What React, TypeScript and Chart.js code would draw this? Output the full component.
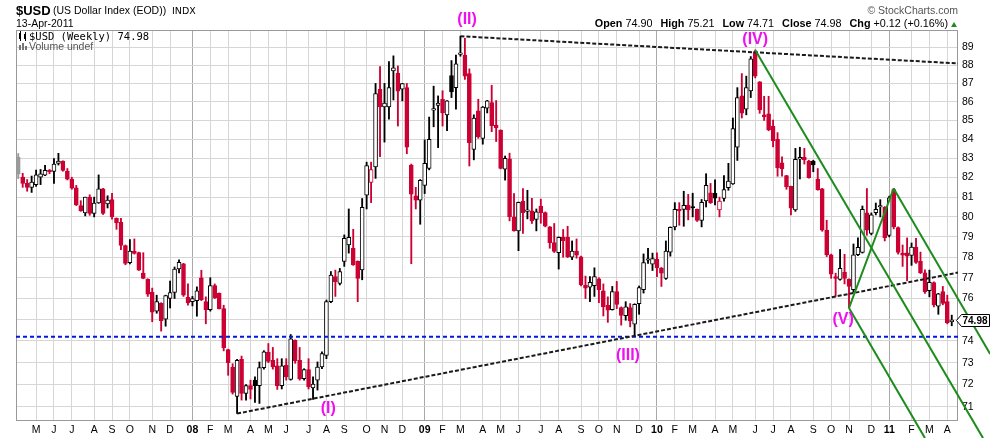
import { useEffect, useRef } from 'react';
import { Chart, registerables } from 'chart.js';

Chart.register(...registerables);

const SANS = "'Liberation Sans', Arial, sans-serif";
const MONO = "'DejaVu Sans Mono', monospace";

// weekly bars, the first one is the week of 9 Apr 2007
const firstWeek = Date.UTC(2007, 3, 9);

const opens = [
  83.05, 82.03, 81.7, 81.5, 81.64, 82.02, 82.12, 82.37, 82.32, 82.73,
  82.85, 82.34, 81.93, 81.47, 80.57, 80.2, 81.0, 80.18, 80.7, 81.42,
  80.65, 80.87, 79.93, 79.73, 78.57, 77.73, 78.3, 78.23, 77.22, 76.92,
  76.3, 75.4, 75.77, 75.02, 76.0, 76.29, 77.43, 77.67, 76.06, 75.85,
  75.9, 77.0, 75.85, 75.47, 76.62, 76.25, 75.52, 73.6, 72.79, 71.46,
  73.15, 71.6, 71.95, 72.2, 71.95, 72.77, 73.47, 73.1, 72.85, 71.95,
  72.88, 72.23, 74.03, 73.1, 72.27, 72.68, 71.85, 72.2, 72.8, 73.33,
  75.85, 77.05, 76.72, 77.79, 78.6, 78.43, 77.8, 77.38, 81.1, 81.75,
  82.55, 86.68, 85.72, 85.72, 87.68, 87.57, 86.68, 86.77, 82.65, 81.07,
  80.85, 81.6, 82.48, 85.55, 85.8, 86.14, 85.3, 87.43, 86.77, 88.6,
  88.57, 87.54, 83.47, 85.52, 84.05, 85.66, 85.96, 84.75, 84.49, 82.43,
  82.97, 80.0, 79.3, 80.8, 80.28, 80.3, 79.87, 80.55, 80.22, 79.5,
  78.72, 78.22, 78.98, 78.98, 78.0, 78.3, 78.02, 76.63, 76.55, 76.62,
  76.95, 76.37, 75.68, 75.47, 76.33, 75.57, 75.18, 75.57, 74.78, 75.75,
  76.42, 77.85, 77.66, 77.9, 77.47, 76.97, 78.25, 79.5, 80.38, 80.38,
  80.58, 80.48, 80.38, 79.82, 80.81, 81.22, 81.2, 80.35, 80.93, 81.48,
  81.68, 83.58, 86.32, 85.6, 86.59, 88.76, 87.08, 85.3, 85.35, 84.7,
  84.0, 82.77, 82.1, 81.55, 80.35, 82.95, 83.05, 82.86, 82.86, 81.93,
  81.43, 79.33, 78.12, 77.05, 76.92, 77.27, 76.92, 76.42, 78.12, 78.24,
  80.21, 79.17, 80.21, 80.5, 80.48, 79.08, 81.38, 79.47, 78.2, 78.22,
  78.09, 78.5, 77.8, 77.24, 76.38, 76.76, 75.64, 76.33, 75.85, 74.9,
];

const highs = [
  83.25, 82.22, 81.9, 82.08, 82.39, 82.42, 82.63, 82.42, 82.98, 83.26,
  82.87, 82.47, 82.02, 81.6, 80.82, 81.0, 81.12, 81.0, 82.14, 81.45,
  81.07, 81.2, 79.95, 79.93, 78.6, 78.87, 78.9, 78.25, 78.22, 76.95,
  76.5, 76.16, 75.8, 76.16, 76.84, 77.52, 77.87, 77.7, 76.71, 76.1,
  76.56, 77.36, 76.08, 77.0, 76.7, 76.27, 75.68, 73.62, 72.95, 73.15,
  73.3, 72.0, 72.2, 72.35, 73.03, 73.55, 73.88, 73.7, 73.18, 73.18,
  73.18, 74.3, 74.05, 73.7, 72.72, 73.18, 72.35, 73.03, 73.5, 75.93,
  77.3, 77.37, 77.45, 79.1, 80.4, 79.38, 77.82, 80.93, 82.8, 82.8,
  87.0, 87.93, 87.0, 88.2, 88.52, 87.96, 87.0, 87.0, 82.7, 81.5,
  81.9, 83.97, 85.18, 86.85, 86.32, 86.6, 86.07, 88.26, 88.57, 89.62,
  89.5, 87.8, 85.3, 86.14, 85.75, 86.08, 86.9, 86.07, 84.5, 83.12,
  83.27, 81.18, 80.75, 81.44, 81.35, 80.94, 80.4, 80.9, 80.25, 79.52,
  79.67, 79.0, 79.37, 79.53, 78.8, 78.9, 78.05, 77.08, 77.05, 77.48,
  77.0, 76.7, 76.08, 76.58, 76.82, 75.6, 75.85, 75.76, 75.75, 76.6,
  78.16, 78.44, 78.2, 78.22, 77.5, 78.8, 79.5, 80.72, 80.72, 81.3,
  81.14, 81.2, 80.4, 80.88, 82.2, 81.7, 81.88, 81.0, 82.1, 82.74,
  85.13, 86.77, 87.54, 87.4, 88.48, 88.85, 87.1, 86.3, 86.3, 85.02,
  84.35, 83.08, 82.12, 81.57, 83.52, 83.58, 83.52, 82.9, 82.9, 82.47,
  81.45, 79.83, 78.15, 77.22, 78.38, 78.14, 76.95, 78.65, 78.95, 80.55,
  81.44, 80.2, 80.7, 80.87, 80.52, 81.05, 81.44, 79.5, 78.6, 78.95,
  78.7, 78.93, 78.25, 77.38, 77.37, 76.8, 76.25, 76.58, 76.16, 75.21,
];

const lows = [
  81.95, 81.5, 81.3, 81.24, 81.55, 81.64, 82.1, 82.2, 81.7, 82.65,
  82.33, 81.88, 81.4, 80.57, 80.28, 80.05, 80.08, 80.0, 80.68, 80.12,
  80.45, 79.88, 79.38, 78.37, 77.63, 77.67, 78.15, 77.35, 76.95, 76.1,
  74.9, 75.3, 74.46, 74.69, 75.55, 76.0, 77.23, 76.1, 75.68, 75.65,
  75.16, 75.9, 74.8, 75.4, 76.0, 75.5, 73.54, 72.42, 71.57, 70.7,
  71.3, 71.3, 71.35, 71.2, 71.15, 72.7, 73.0, 72.7, 71.78, 71.8,
  72.2, 72.2, 72.97, 72.2, 72.2, 71.8, 71.33, 71.75, 72.72, 73.18,
  75.8, 76.1, 76.65, 77.55, 78.2, 77.6, 75.85, 76.9, 80.4, 80.72,
  81.96, 83.08, 83.85, 85.07, 86.1, 84.7, 86.05, 83.24, 77.68, 80.4,
  79.63, 81.18, 82.4, 84.66, 83.56, 84.7, 84.45, 86.23, 85.6, 88.5,
  87.22, 82.6, 82.92, 84.05, 83.74, 85.4, 84.4, 83.88, 82.45, 81.87,
  79.8, 79.28, 78.32, 79.17, 79.9, 79.67, 79.3, 79.68, 79.5, 78.44,
  78.23, 77.42, 78.0, 77.98, 77.88, 77.95, 76.6, 76.0, 75.85, 76.1,
  75.8, 75.17, 74.87, 75.45, 75.52, 74.74, 74.97, 74.66, 74.22, 75.25,
  76.26, 77.7, 77.35, 77.05, 76.58, 76.92, 78.05, 79.35, 79.58, 79.53,
  79.85, 80.0, 79.77, 79.5, 80.5, 80.68, 80.6, 80.0, 80.8, 81.35,
  81.65, 82.89, 85.13, 85.3, 86.23, 87.3, 85.38, 85.0, 84.45, 83.6,
  82.07, 82.07, 81.4, 80.1, 80.28, 81.93, 82.7, 81.97, 82.3, 81.35,
  79.28, 78.03, 76.97, 76.1, 76.88, 76.7, 75.55, 76.3, 78.07, 78.2,
  79.08, 79.1, 80.1, 80.0, 78.8, 79.0, 79.4, 78.15, 77.55, 76.85,
  77.6, 77.7, 77.2, 76.25, 76.08, 75.6, 75.25, 75.7, 74.8, 74.71,
];

const closes = [
  82.18, 81.7, 81.5, 81.77, 82.14, 82.19, 82.37, 82.3, 82.7, 82.85,
  82.37, 81.92, 81.46, 80.6, 80.3, 81.0, 80.18, 80.7, 81.42, 80.18,
  80.85, 80.0, 79.7, 78.58, 77.7, 78.3, 78.18, 77.37, 76.97, 76.21,
  75.35, 75.85, 74.95, 76.14, 76.29, 77.42, 77.75, 76.16, 75.79, 76.0,
  76.37, 75.94, 75.47, 76.62, 76.03, 75.52, 73.69, 73.0, 71.64, 73.1,
  71.6, 71.95, 71.78, 71.95, 72.77, 73.5, 73.05, 72.8, 71.95, 72.85,
  72.35, 74.1, 73.08, 72.27, 72.68, 71.9, 72.02, 72.8, 73.42, 75.85,
  77.13, 76.8, 77.3, 78.93, 78.98, 77.62, 76.97, 80.48, 82.62, 82.42,
  86.45, 85.72, 85.93, 86.77, 87.85, 86.58, 86.99, 83.58, 81.15, 80.85,
  81.86, 82.74, 84.0, 85.6, 85.93, 85.4, 86.05, 86.54, 88.08, 88.65,
  87.4, 83.82, 85.13, 84.14, 85.72, 86.05, 84.72, 84.6, 82.48, 83.0,
  80.01, 79.3, 80.73, 80.21, 80.32, 79.8, 80.25, 80.21, 79.53, 78.71,
  78.28, 78.98, 78.8, 78.02, 78.3, 78.1, 76.66, 76.5, 76.78, 77.05,
  76.42, 75.6, 75.45, 76.33, 75.72, 75.2, 75.6, 74.94, 75.72, 76.53,
  77.74, 77.88, 77.93, 77.47, 77.22, 78.3, 79.48, 80.38, 80.3, 80.58,
  80.35, 80.45, 79.82, 80.73, 81.6, 80.72, 80.95, 80.8, 81.38, 81.82,
  84.57, 86.23, 85.39, 86.77, 88.35, 87.4, 85.56, 85.2, 84.49, 83.93,
  82.5, 82.45, 81.52, 80.44, 82.95, 83.05, 82.92, 82.0, 82.65, 81.38,
  79.33, 78.12, 77.17, 76.97, 77.46, 76.97, 76.58, 78.12, 78.48, 80.38,
  79.33, 80.1, 80.38, 80.52, 78.96, 80.96, 79.5, 78.24, 78.1, 78.05,
  78.5, 77.74, 77.24, 76.33, 76.78, 75.69, 76.22, 75.77, 74.86, 74.98,
];

const monthLabels = [
  'M', 'J', 'J', 'A', 'S', 'O', 'N', 'D',
  '08', 'F', 'M', 'A', 'M', 'J', 'J', 'A', 'S', 'O', 'N', 'D',
  '09', 'F', 'M', 'A', 'M', 'J', 'J', 'A', 'S', 'O', 'N', 'D',
  '10', 'F', 'M', 'A', 'M', 'J', 'J', 'A', 'S', 'O', 'N', 'D',
  '11', 'F', 'M', 'A',
];
const priceTicks = [71, 72, 73, 74, 75, 76, 77, 78, 79, 80, 81, 82, 83, 84, 85, 86, 87, 88, 89];

// drawn lines, in (week, price)
const topTrend = [{ x: 99, y: 89.62 }, { x: 210.4, y: 88.1 }];
const baseTrend = [{ x: 49, y: 70.7 }, { x: 210.4, y: 77.25 }];
const supportLevel = 74.2;
const channelTop = [{ x: 165, y: 88.85 }, { x: 216.0, y: 69.62 }];
const channelLow = [{ x: 186, y: 75.55 }, { x: 203.0, y: 69.62 }];
const riseLeg = [{ x: 186, y: 75.55 }, { x: 196, y: 81.44 }];
const fallLeg = [{ x: 196, y: 81.44 }, { x: 217.6, y: 73.4 }];

const waveNames = ['(I)', '(II)', '(III)', '(IV)', '(V)'];
const waveWeek = [69.4, 100.5, 136.5, 165.0, 184.7];
const wavePrice = [70.9, 90.54, 73.3, 89.41, 74.98];

const X_MIN = -0.5;
const X_MAX = 210.4;
const Y_MIN = 70.37;
const Y_MAX = 89.97;

const RED = '#cc0033';

const weekMs = 7 * 24 * 3600 * 1000;
const monthTicks: number[] = [];
for (let i = 1; i < closes.length; i++) {
  const m = new Date(firstWeek + i * weekMs).getUTCMonth();
  const p = new Date(firstWeek + (i - 1) * weekMs).getUTCMonth();
  if (m !== p) monthTicks.push(i);
}

const isYear = (i: number) => (monthLabels[i] || '').length === 2;

function candleColor(i: number) {
  if (i === 0) return '#9a9a9a';
  return closes[i] < closes[i - 1] ? RED : '#000000';
}

const last = closes.length - 1;
const chg = closes[last] - closes[last - 1];

const overlay = {
  id: 'overlay',
  beforeDatasetsDraw(chart: any) {
    const { ctx, chartArea: a } = chart;
    ctx.save();
    ctx.strokeStyle = '#999999';
    ctx.lineWidth = 1;
    ctx.strokeRect(a.left + 0.5, a.top + 0.5, a.right - a.left - 1, a.bottom - a.top - 1);
    ctx.restore();
  },
  afterDraw(chart: any) {
    const { ctx, chartArea: a, scales } = chart;
    ctx.save();
    ctx.fillStyle = '#ee11ee';
    ctx.font = `bold 16px ${SANS}`;
    ctx.textAlign = 'center';
    ctx.textBaseline = 'middle';
    waveNames.forEach((t, i) => {
      ctx.fillText(t, scales.x.getPixelForValue(waveWeek[i]), scales.y.getPixelForValue(wavePrice[i]));
    });

    // last price box on the axis
    const y = Math.round(scales.y.getPixelForValue(closes[last])) + 0.5;
    const x0 = a.right - 1.5;
    ctx.beginPath();
    ctx.moveTo(x0, y);
    ctx.lineTo(x0 + 5, y - 6);
    ctx.lineTo(989.5, y - 6);
    ctx.lineTo(989.5, y + 6);
    ctx.lineTo(x0 + 5, y + 6);
    ctx.closePath();
    ctx.fillStyle = '#ffffff';
    ctx.fill();
    ctx.strokeStyle = '#000000';
    ctx.lineWidth = 1;
    ctx.stroke();
    ctx.fillStyle = '#000000';
    ctx.font = `bold 10px ${SANS}`;
    ctx.textAlign = 'left';
    ctx.fillText(closes[last].toFixed(2), x0 + 6, y + 0.5);
    ctx.restore();
  },
};

const abs = (left: number, top: number, extra: any = {}) => ({
  position: 'absolute' as const,
  left,
  top,
  whiteSpace: 'nowrap' as const,
  lineHeight: 1,
  ...extra,
});

export default function App() {
  const canvasRef = useRef<HTMLCanvasElement | null>(null);

  useEffect(() => {
    if (!canvasRef.current) return;
    const ctx = canvasRef.current.getContext('2d');
    if (!ctx) return;

    const colors = closes.map((_, i) => candleColor(i));
    const line = (pts: any[], color: string, width: number, dash: number[]) => ({
      type: 'line' as const,
      data: pts,
      borderColor: color,
      borderWidth: width,
      borderDash: dash,
      pointRadius: 0,
      fill: false,
      tension: 0,
      clip: false as any,
      order: 0,
    });

    const chart = new Chart(ctx, {
      type: 'bar',
      data: {
        datasets: [
          line(channelTop, '#1c8c1c', 2, []),
          line(channelLow, '#1c8c1c', 2, []),
          line(riseLeg, '#1c8c1c', 2, []),
          line(fallLeg, '#1c8c1c', 2, []),
          line(topTrend, '#1a1a1a', 2, [4, 2]),
          line(baseTrend, '#1a1a1a', 2, [4, 2]),
          line([{ x: X_MIN, y: supportLevel }, { x: X_MAX, y: supportLevel }], '#0018e0', 2, [4, 3]),
          {
            type: 'bar' as const,
            data: closes.map((c, i) => ({ x: i, y: [Math.min(opens[i], c), Math.max(opens[i], c)] })) as any,
            backgroundColor: closes.map((c, i) => (i === 0 || c < opens[i] ? colors[i] : '#ffffff')),
            borderColor: colors,
            borderWidth: 1,
            borderSkipped: false,
            barThickness: 4,
            minBarLength: 1.5,
            grouped: false,
            order: 1,
          },
          {
            type: 'bar' as const,
            data: closes.map((_, i) => ({ x: i, y: [lows[i], highs[i]] })) as any,
            backgroundColor: colors,
            borderWidth: 0,
            barThickness: 1.2,
            grouped: false,
            order: 2,
          },
        ],
      },
      options: {
        animation: false,
        responsive: true,
        maintainAspectRatio: false,
        events: [],
        layout: { padding: { left: 16, top: 30, right: 0, bottom: 0 } },
        plugins: { legend: { display: false }, tooltip: { enabled: false } },
        scales: {
          x: {
            type: 'linear',
            min: X_MIN,
            max: X_MAX,
            offset: false,
            afterBuildTicks: (s: any) => {
              s.ticks = monthTicks.map((v) => ({ value: v }));
            },
            afterFit: (s: any) => {
              s.height = 17;
            },
            grid: {
              offset: false,
              drawTicks: false,
              color: (c: any) => (isYear(c.index) ? '#a9a9a9' : '#d6d6d6'),
            },
            border: { display: false },
            ticks: {
              autoSkip: false,
              maxRotation: 0,
              padding: 3,
              color: '#000000',
              font: (c: any) => ({ family: SANS, size: 10.5, weight: isYear(c.index) ? 'bold' : 'normal' }),
              callback: (_v: any, i: number) => monthLabels[i],
            },
          },
          y: {
            type: 'logarithmic',
            position: 'right',
            min: Y_MIN,
            max: Y_MAX,
            afterBuildTicks: (s: any) => {
              s.ticks = priceTicks.map((v) => ({ value: v }));
            },
            afterFit: (s: any) => {
              s.width = 32;
            },
            grid: { drawTicks: false, color: '#d6d6d6' },
            border: { display: false },
            ticks: {
              padding: 4,
              color: '#000000',
              font: { family: SANS, size: 10.5 },
              callback: (v: any) => String(v),
            },
          },
        },
      } as any,
      plugins: [overlay],
    });

    return () => {
      chart.destroy();
    };
  }, []);

  const grp = { marginLeft: 8 };
  return (
    <div style={{ position: 'fixed', left: 0, top: 0, width: 990, height: 438, background: '#fff', fontFamily: SANS, color: '#000' }}>
      <canvas ref={canvasRef} aria-label="US Dollar Index weekly candlesticks" />

      <div style={abs(16, 3.5, { fontSize: 13, fontWeight: 'bold' })}>$USD</div>
      <div style={abs(53, 5.3, { fontSize: 10.5 })}>(US Dollar Index (EOD))</div>
      <div style={abs(172, 5.8, { fontSize: 9.5, fontFamily: "'DejaVu Sans', sans-serif" })}>INDX</div>
      <div style={abs(16, 17.8, { fontSize: 10.5 })}>13-Apr-2011</div>

      <div style={abs(0, 5.2, { left: 'auto', right: 32, fontSize: 10.5, color: '#555' })}>© StockCharts.com</div>
      <div style={abs(0, 17.8, { left: 'auto', right: 33, fontSize: 10.8, display: 'flex', alignItems: 'baseline' })}>
        <span><b>Open</b> {opens[last].toFixed(2)}</span>
        <span style={grp}><b>High</b> {highs[last].toFixed(2)}</span>
        <span style={grp}><b>Low</b> {lows[last].toFixed(2)}</span>
        <span style={grp}><b>Close</b> {closes[last].toFixed(2)}</span>
        <span style={grp}><b>Chg</b> {chg >= 0 ? '+' : ''}{chg.toFixed(2)} ({chg >= 0 ? '+' : ''}{((chg / closes[last - 1]) * 100).toFixed(2)}%)</span>
        <span style={{ display: 'inline-block', width: 0, height: 0, marginLeft: 3, borderLeft: '3px solid transparent', borderRight: '3px solid transparent', borderBottom: '5px solid #1c8c1c' }} />
      </div>

      <div style={abs(19, 33, { width: 2, height: 6, background: '#000' })} />
      <div style={abs(20, 31, { width: 0.8, height: 10, background: '#000' })} />
      <div style={abs(24, 34, { width: 2, height: 5, background: '#000' })} />
      <div style={abs(25, 32, { width: 0.8, height: 9, background: '#000' })} />
      <div style={abs(29, 31.1, { fontSize: 10.5, fontFamily: MONO })}>$USD (Weekly) {closes[last].toFixed(2)}</div>

      <div style={abs(19, 45, { width: 2, height: 5, background: '#777' })} />
      <div style={abs(22, 43, { width: 2, height: 7, background: '#777' })} />
      <div style={abs(25, 46, { width: 2, height: 4, background: '#777' })} />
      <div style={abs(29, 41.1, { fontSize: 10.5, color: '#555' })}>Volume undef</div>
    </div>
  );
}
